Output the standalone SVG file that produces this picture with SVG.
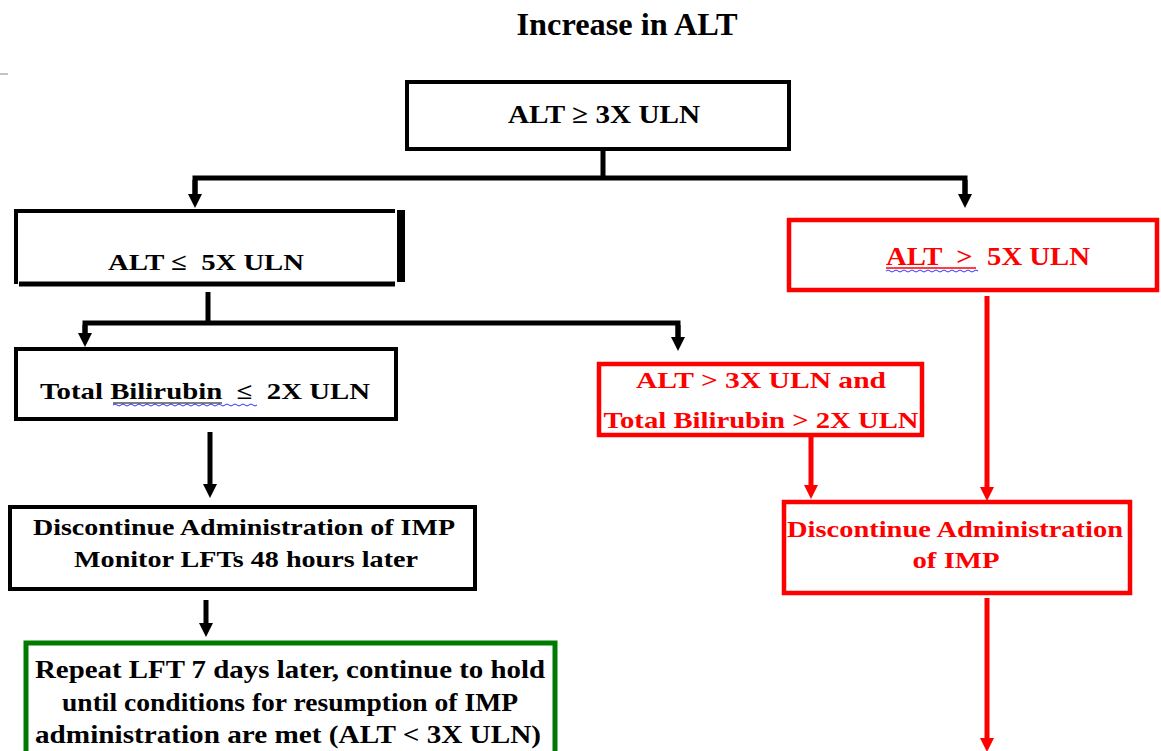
<svg xmlns="http://www.w3.org/2000/svg" width="1161" height="751" viewBox="0 0 1161 751">
<defs>
<style>
.t{font-family:"Liberation Serif","Times New Roman",Times,serif;font-weight:bold;text-anchor:middle;white-space:pre}
.k{fill:#000}
.r{fill:#ff0000}
.bk{fill:#fff;stroke:#000;stroke-width:4}
.br{fill:#fff;stroke:#ff0000;stroke-width:4.5}
.bg{fill:#fff;stroke:#007a00;stroke-width:5}
.ck{fill:none;stroke:#000;stroke-width:5}
.cr{fill:none;stroke:#ff0000;stroke-width:5}
.wv{fill:none;stroke:#3030ff;stroke-width:1}
</style>
<marker id="ak" markerUnits="userSpaceOnUse" markerWidth="16" markerHeight="14" refX="0" refY="7" orient="auto" viewBox="0 0 16 14">
<path d="M0,0 L14,7 L0,14 Z" fill="#000"/>
</marker>
<marker id="ar" markerUnits="userSpaceOnUse" markerWidth="16" markerHeight="14" refX="0" refY="7" orient="auto" viewBox="0 0 16 14">
<path d="M0,0 L14,7 L0,14 Z" fill="#ff0000"/>
</marker>
</defs>
<rect width="1161" height="751" fill="#fff"/>
<line x1="0" y1="74" x2="8" y2="74" stroke="#888" stroke-width="1"/>
<text class="t k" x="627" y="35" font-size="31" textLength="221" lengthAdjust="spacingAndGlyphs">Increase in ALT</text>

<g id="connectors">
<path class="ck" d="M603,150 V178"/>
<path class="ck" d="M195,196 V178 H965 V196" />
<path class="ck" d="M195,180 V194" marker-end="url(#ak)"/>
<path class="ck" d="M965,180 V194" marker-end="url(#ak)"/>
<path class="ck" d="M208,292 V323"/>
<path class="ck" d="M85,335 V323 H678 V337"/>
<path class="ck" d="M85,325 V333" marker-end="url(#ak)"/>
<path class="ck" d="M678,325 V337" marker-end="url(#ak)"/>
<path class="ck" d="M210,432 V484" marker-end="url(#ak)"/>
<path class="ck" d="M206,600 V623" marker-end="url(#ak)"/>
<path class="cr" d="M811,437 V485" marker-end="url(#ar)"/>
<path class="cr" d="M987,296 V487" marker-end="url(#ar)"/>
<path class="cr" d="M987,598 V738" marker-end="url(#ar)"/>
</g>

<g id="n1">
<rect class="bk" x="407" y="82" width="382" height="67"/>
<text class="t k" x="604" y="123" font-size="26" textLength="192" lengthAdjust="spacingAndGlyphs">ALT ≥ 3X ULN</text>
</g>

<g id="n2">
<path d="M16,211 H395 M16,209 V284" stroke="#000" stroke-width="4" fill="none"/>
<path d="M19,284 H395" stroke="#000" stroke-width="5" fill="none"/>
<rect x="397" y="210" width="8" height="72" fill="#000"/>
<text class="t k" x="206" y="270" font-size="24" textLength="196" lengthAdjust="spacingAndGlyphs">ALT ≤  5X ULN</text>
</g>

<g id="n3">
<rect class="bk" x="16" y="349" width="380" height="70"/>
<text class="t k" x="205" y="399" font-size="23" textLength="330" lengthAdjust="spacingAndGlyphs">Total Bilirubin  ≤  2X ULN</text>
<path class="wv" d="M113,405 q2,-2 4,0 t4,0 t4,0 t4,0 t4,0 t4,0 t4,0 t4,0 t4,0 t4,0 t4,0 t4,0 t4,0 t4,0 t4,0 t4,0 t4,0 t4,0 t4,0 t4,0 t4,0 t4,0 t4,0 t4,0 t4,0 t4,0 t4,0 t4,0 t4,0 t4,0 t4,0 t4,0 t4,0 t4,0 t4,0 t4,0"/>
<line x1="113" y1="403" x2="222" y2="403" stroke="#000" stroke-width="1"/>
</g>

<g id="n4">
<rect class="bk" x="10" y="507" width="465" height="82"/>
<text class="t k" x="244" y="535" font-size="23" textLength="422" lengthAdjust="spacingAndGlyphs">Discontinue Administration of IMP</text>
<text class="t k" x="246" y="567" font-size="23" textLength="344" lengthAdjust="spacingAndGlyphs">Monitor LFTs 48 hours later</text>
</g>

<g id="n5">
<rect class="bg" x="26" y="643" width="529" height="120"/>
<text class="t k" x="290" y="678" font-size="26" textLength="510" lengthAdjust="spacingAndGlyphs">Repeat LFT 7 days later, continue to hold</text>
<text class="t k" x="290" y="711" font-size="26" textLength="456" lengthAdjust="spacingAndGlyphs">until conditions for resumption of IMP</text>
<text class="t k" x="288" y="743" font-size="26" textLength="506" lengthAdjust="spacingAndGlyphs">administration are met (ALT &lt; 3X ULN)</text>
</g>

<g id="n6">
<rect class="br" x="789" y="220" width="368" height="70"/>
<text class="t r" x="988" y="265" font-size="25" textLength="204" lengthAdjust="spacingAndGlyphs">ALT  &gt;  5X ULN</text>
<line x1="886" y1="268" x2="976" y2="268" stroke="#ff0000" stroke-width="1.5"/>
<path class="wv" d="M886,271 q2,-2 4,0 t4,0 t4,0 t4,0 t4,0 t4,0 t4,0 t4,0 t4,0 t4,0 t4,0 t4,0 t4,0 t4,0 t4,0 t4,0 t4,0 t4,0 t4,0 t4,0 t4,0 t4,0 t4,0"/>
</g>

<g id="n7">
<rect class="br" x="599" y="364" width="323" height="71"/>
<text class="t r" x="761" y="388" font-size="24" textLength="250" lengthAdjust="spacingAndGlyphs">ALT &gt; 3X ULN and</text>
<text class="t r" x="761" y="428" font-size="24" textLength="315" lengthAdjust="spacingAndGlyphs">Total Bilirubin &gt; 2X ULN</text>
</g>

<g id="n8">
<rect class="br" x="784" y="502" width="346" height="91"/>
<text class="t r" x="955" y="537" font-size="23" textLength="336" lengthAdjust="spacingAndGlyphs">Discontinue Administration</text>
<text class="t r" x="956" y="568" font-size="23" textLength="87" lengthAdjust="spacingAndGlyphs">of IMP</text>
</g>
</svg>
